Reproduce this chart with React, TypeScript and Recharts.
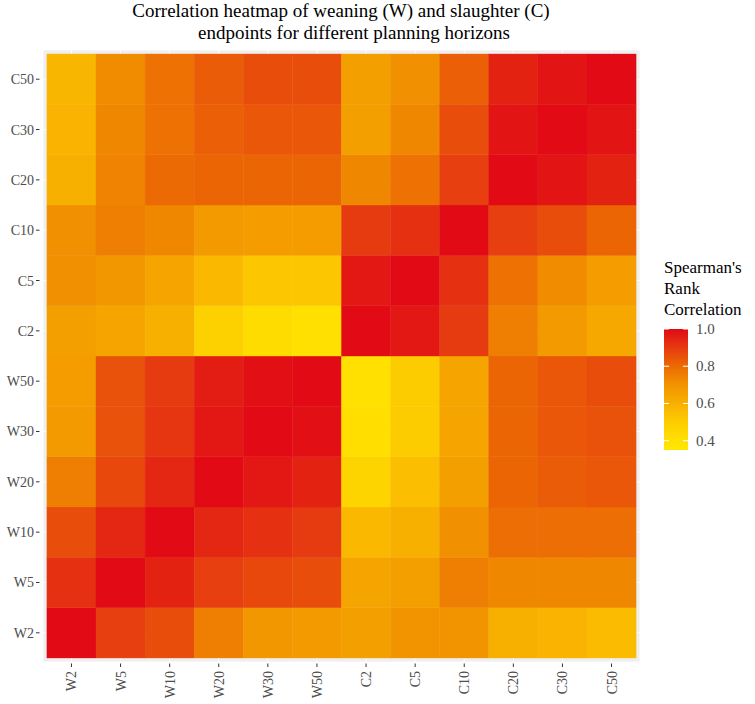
import React from 'react';
import { ScatterChart, Scatter, XAxis, YAxis, CartesianGrid } from 'recharts';

// endpoints, in axis order (left->right, bottom->top)
const endpoints = ['W2', 'W5', 'W10', 'W20', 'W30', 'W50', 'C2', 'C5', 'C10', 'C20', 'C30', 'C50'];

// one row per y-axis endpoint, values by column (W2 ... C50)
const rowW2 = [1.0, 0.89, 0.86, 0.75, 0.69, 0.68, 0.66, 0.7, 0.7, 0.6, 0.59, 0.56];
const rowW5 = [0.92, 1.0, 0.95, 0.89, 0.87, 0.86, 0.64, 0.66, 0.75, 0.73, 0.73, 0.73];
const rowW10 = [0.86, 0.94, 1.0, 0.94, 0.92, 0.9, 0.57, 0.6, 0.71, 0.79, 0.79, 0.79];
const rowW20 = [0.75, 0.87, 0.94, 1.0, 0.97, 0.95, 0.46, 0.55, 0.66, 0.81, 0.83, 0.84];
const rowW30 = [0.68, 0.85, 0.91, 0.97, 1.0, 0.99, 0.41, 0.5, 0.64, 0.81, 0.84, 0.85];
const rowW50 = [0.67, 0.85, 0.9, 0.96, 0.99, 1.0, 0.4, 0.5, 0.64, 0.81, 0.84, 0.86];
const rowC2 = [0.66, 0.64, 0.6, 0.48, 0.42, 0.4, 1.0, 0.97, 0.9, 0.75, 0.68, 0.63];
const rowC5 = [0.71, 0.69, 0.64, 0.57, 0.52, 0.52, 0.97, 1.0, 0.92, 0.78, 0.72, 0.67];
const rowC10 = [0.71, 0.75, 0.73, 0.68, 0.67, 0.67, 0.9, 0.92, 1.0, 0.89, 0.86, 0.81];
const rowC20 = [0.6, 0.74, 0.8, 0.81, 0.81, 0.81, 0.73, 0.78, 0.89, 1.0, 0.98, 0.95];
const rowC30 = [0.59, 0.73, 0.78, 0.82, 0.84, 0.84, 0.66, 0.73, 0.86, 0.98, 1.0, 0.98];
const rowC50 = [0.58, 0.72, 0.78, 0.83, 0.86, 0.86, 0.66, 0.71, 0.82, 0.95, 0.98, 1.0];

const rows = [rowW2, rowW5, rowW10, rowW20, rowW30, rowW50, rowC2, rowC5, rowC10, rowC20, rowC30, rowC50];

const legendTicks = [1.0, 0.8, 0.6, 0.4];

// colour scale (value -> colour)
const scaleValues = [0.35, 0.4, 0.5, 0.6, 0.7, 0.8, 0.9, 1.0];
const scaleColors = ['#FFE800', '#FFE000', '#FDCC00', '#F8B000', '#F29400', '#EC6A04', '#E63A10', '#E10A15'];

const hex = (c: string) => [1, 3, 5].map((i) => parseInt(c.slice(i, i + 2), 16));

const colorFor = (v: number) => {
  if (v <= scaleValues[0]) return scaleColors[0];
  for (let i = 1; i < scaleValues.length; i++) {
    if (v <= scaleValues[i]) {
      const t = (v - scaleValues[i - 1]) / (scaleValues[i] - scaleValues[i - 1]);
      const a = hex(scaleColors[i - 1]);
      const b = hex(scaleColors[i]);
      const m = a.map((x, k) => Math.round(x + (b[k] - x) * t));
      return `rgb(${m[0]},${m[1]},${m[2]})`;
    }
  }
  return scaleColors[scaleColors.length - 1];
};

const cells = rows.flatMap((row, yi) => row.map((v, xi) => ({ x: xi, y: yi, v })));

const W = 755;
const H = 704;
const PAD = 0.58;
const PLOT_W = 597;
const PLOT_H = 612;
const TILE_W = PLOT_W / (endpoints.length - 1 + 2 * PAD);
const TILE_H = PLOT_H / (endpoints.length - 1 + 2 * PAD);

const FONT = 'Liberation Serif, Tinos, Times New Roman, Times, DejaVu Serif, Noto Serif, serif';

const Tile = (props: any) => {
  const { cx, cy, payload } = props;
  const fill = colorFor(payload.v);
  return (
    <rect
      x={cx - TILE_W / 2}
      y={cy - TILE_H / 2}
      width={TILE_W}
      height={TILE_H}
      fill={fill}
      stroke={fill}
      strokeWidth={0.4}
    />
  );
};

const XTick = (props: any) => {
  const { x, y, payload } = props;
  return (
    <g>
      <line x1={x} x2={x} y1={y + 1.5} y2={y + 5} stroke="#333" strokeWidth={1} />
      <text
        transform={`translate(${x + 5},${y + 9}) rotate(-90)`}
        textAnchor="end"
        style={{ fontFamily: FONT, fontSize: 14 }}
        fill="#4D4D4D"
      >
        {endpoints[payload.value]}
      </text>
    </g>
  );
};

const YTick = (props: any) => {
  const { x, y, payload } = props;
  return (
    <g>
      <line x1={x - 7} x2={x - 3.5} y1={y} y2={y} stroke="#333" strokeWidth={1} />
      <text x={x - 9} y={y + 5} textAnchor="end" style={{ fontFamily: FONT, fontSize: 14 }} fill="#4D4D4D">
        {endpoints[payload.value]}
      </text>
    </g>
  );
};

const LEG_TOP = 329;
const LEG_BOTTOM = 450;
const LEG_MIN = 0.35;
const LEG_MAX = 1.0;
const legY = (v: number) => LEG_BOTTOM - ((v - LEG_MIN) / (LEG_MAX - LEG_MIN)) * (LEG_BOTTOM - LEG_TOP);

export default function App() {
  document.body.style.margin = '0';
  const idx = endpoints.map((_, i) => i);
  return (
    <div style={{ position: 'relative', width: W, height: H, background: '#fff', fontFamily: FONT }}>
      <ScatterChart width={W} height={H} margin={{ top: 50, right: 115, bottom: 0, left: 0 }}>
        <CartesianGrid fill="#EFEFEF" stroke="#fff" strokeWidth={0.8} />
        <XAxis
          type="number"
          dataKey="x"
          domain={[-PAD, endpoints.length - 1 + PAD]}
          ticks={idx}
          interval={0}
          height={42}
          axisLine={false}
          tickLine={false}
          tickSize={0}
          tickMargin={0}
          tick={<XTick />}
        />
        <YAxis
          type="number"
          dataKey="y"
          domain={[-PAD, endpoints.length - 1 + PAD]}
          ticks={idx}
          interval={0}
          width={43}
          axisLine={false}
          tickLine={false}
          tickSize={0}
          tickMargin={0}
          tick={<YTick />}
        />
        <Scatter data={cells} shape={<Tile />} isAnimationActive={false} />
      </ScatterChart>

      <svg width={W} height={H} style={{ position: 'absolute', left: 0, top: 0, pointerEvents: 'none', fontFamily: FONT }}>
        <text x={341} y={17} textAnchor="middle" style={{ fontSize: 19 }} fill="#000">
          Correlation heatmap of weaning (W) and slaughter (C)
        </text>
        <text x={354} y={39} textAnchor="middle" style={{ fontSize: 19 }} fill="#000">
          endpoints for different planning horizons
        </text>

        <text style={{ fontSize: 17 }} fill="#000">
          <tspan x={664} y={273}>Spearman's</tspan>
          <tspan x={664} y={294}>Rank</tspan>
          <tspan x={664} y={315}>Correlation</tspan>
        </text>
        <defs>
          <linearGradient id="legGrad" x1="0" y1="1" x2="0" y2="0">
            {scaleValues.map((v, i) => (
              <stop key={v} offset={(v - LEG_MIN) / (LEG_MAX - LEG_MIN)} stopColor={scaleColors[i]} />
            ))}
          </linearGradient>
        </defs>
        <rect x={664} y={LEG_TOP} width={24} height={LEG_BOTTOM - LEG_TOP} fill="url(#legGrad)" />
        {legendTicks.map((t) => (
          <g key={t}>
            <line x1={664} x2={669} y1={legY(t)} y2={legY(t)} stroke="#fff" strokeWidth={1} />
            <line x1={683} x2={688} y1={legY(t)} y2={legY(t)} stroke="#fff" strokeWidth={1} />
            <text x={696} y={legY(t) + 5} style={{ fontSize: 15 }} fill="#4D4D4D">
              {t.toFixed(1)}
            </text>
          </g>
        ))}
      </svg>
    </div>
  );
}
